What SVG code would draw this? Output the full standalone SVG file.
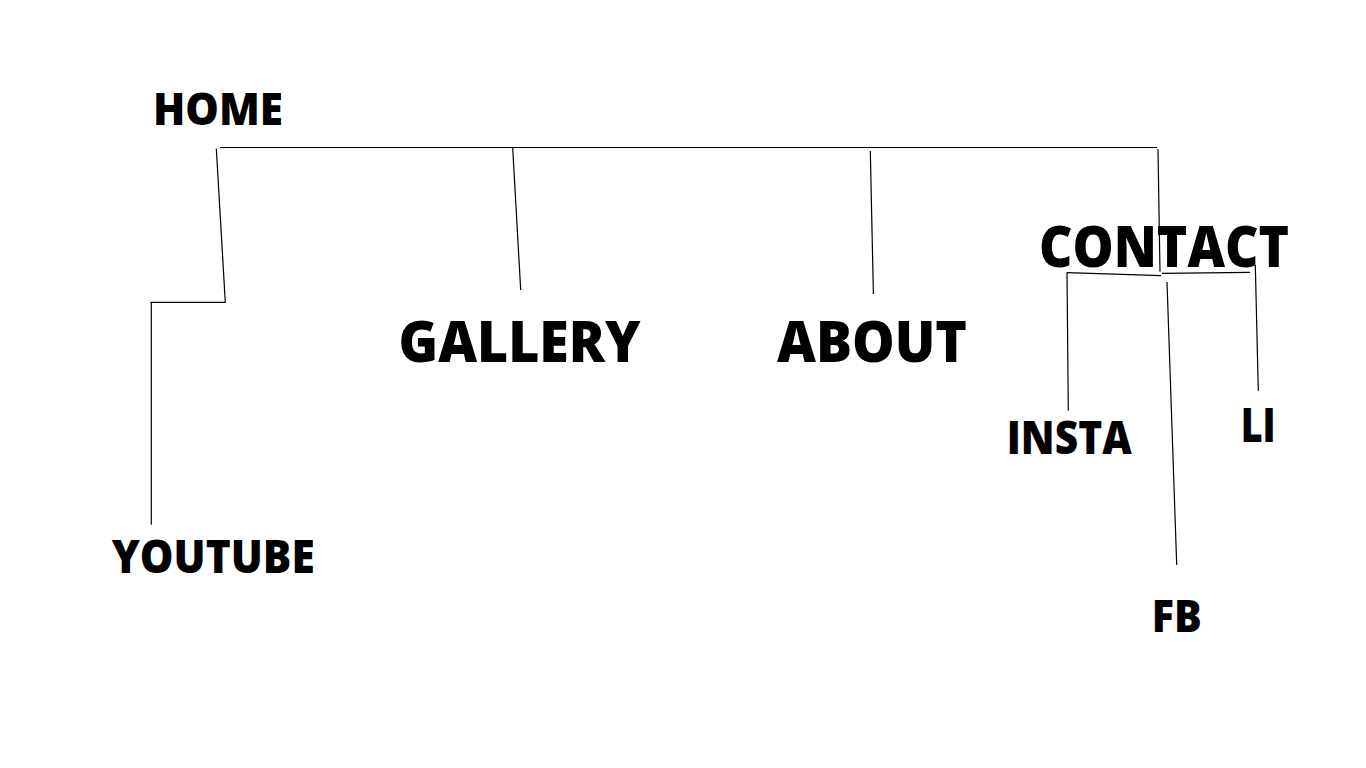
<svg xmlns="http://www.w3.org/2000/svg" width="1366" height="768" viewBox="0 0 1366 768">
<style>
.lbl{font-family:"Open Sans","Noto Sans","Liberation Sans",sans-serif;font-weight:800;fill:#000}
.ln{stroke:#000;stroke-width:1.2;fill:none;stroke-linecap:butt}
</style>
<rect x="0" y="0" width="1366" height="768" fill="#fff"/>
<g id="connectors">
<line class="ln" x1="220" y1="147.5" x2="1157" y2="147.5"/>
<line class="ln" x1="216.3" y1="148.5" x2="225.3" y2="302.5"/>
<line class="ln" x1="150.5" y1="302.3" x2="225.5" y2="302.3"/>
<line class="ln" x1="151.3" y1="302" x2="151.3" y2="524.7"/>
<line class="ln" x1="512.7" y1="148" x2="520.7" y2="290"/>
<line class="ln" x1="870.3" y1="151" x2="873.4" y2="294"/>
<line class="ln" x1="1158" y1="149.3" x2="1160" y2="271.7"/>
<line class="ln" x1="1066.7" y1="272.7" x2="1161" y2="275.7"/>
<line class="ln" x1="1162" y1="273.3" x2="1250" y2="272.3"/>
<line class="ln" x1="1255.3" y1="265" x2="1258.3" y2="390.7"/>
<line class="ln" x1="1067" y1="273" x2="1068.3" y2="410.7"/>
<line class="ln" x1="1167" y1="282" x2="1176.7" y2="565"/>
</g>
<g id="home"><text class="lbl" x="153" y="125" font-size="45" textLength="130" lengthAdjust="spacingAndGlyphs">HOME</text></g>
<g id="gallery"><text class="lbl" x="398.5" y="362" font-size="57" textLength="242" lengthAdjust="spacingAndGlyphs">GALLERY</text></g>
<g id="about"><text class="lbl" x="777" y="362" font-size="57" textLength="190" lengthAdjust="spacingAndGlyphs">ABOUT</text></g>
<g id="contact"><text class="lbl" x="1039" y="267.3" font-size="57" textLength="250" lengthAdjust="spacingAndGlyphs">CONTACT</text></g>
<g id="insta"><text class="lbl" x="1006.7" y="454" font-size="46" textLength="125" lengthAdjust="spacingAndGlyphs">INSTA</text></g>
<g id="li"><text class="lbl" x="1240.7" y="441.7" font-size="47" textLength="35" lengthAdjust="spacingAndGlyphs">LI</text></g>
<g id="fb"><text class="lbl" x="1151.7" y="631.7" font-size="45" textLength="50" lengthAdjust="spacingAndGlyphs">FB</text></g>
<g id="youtube"><text class="lbl" x="111.7" y="572.7" font-size="46" textLength="203" lengthAdjust="spacingAndGlyphs">YOUTUBE</text></g>
</svg>
